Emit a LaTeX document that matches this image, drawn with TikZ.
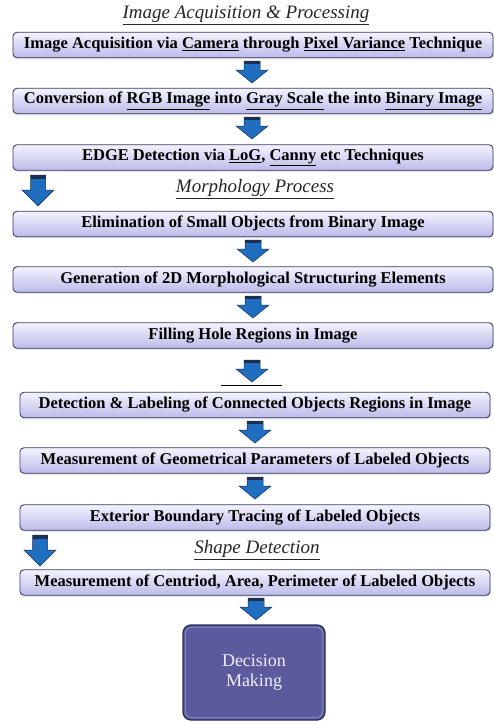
\documentclass[tikz,border=0pt]{standalone}
\usepackage{fontspec}
\setmainfont{Liberation Serif}
\usetikzlibrary{shadows,calc}
\definecolor{boxtop}{HTML}{F3F3FD}
\definecolor{boxbot}{HTML}{BBBBEA}
\definecolor{boxline}{HTML}{3C3C66}
\definecolor{arrblue}{HTML}{1F6EC0}
\definecolor{arrdark}{HTML}{1A2F52}
\definecolor{decfill}{HTML}{5A5A9C}
\definecolor{decline}{HTML}{2E2E52}
\definecolor{dechi}{HTML}{8E8ED0}
\definecolor{dectext}{HTML}{EEEEF6}
\tikzset{
  stepbox/.style={draw=boxline, line width=0.9pt, rounded corners=4pt,
    top color=boxtop, bottom color=boxbot, inner sep=0pt,
    drop shadow={opacity=0.2, shadow xshift=1pt, shadow yshift=-1.5pt},
    font=\fontsize{16.5}{18}\selectfont\bfseries, text=black},
  widebox/.style={stepbox, minimum width=480pt, minimum height=25.5pt},
  narrowbox/.style={stepbox, minimum width=470pt, minimum height=25.5pt},
  sectitle/.style={font=\fontsize{19}{21}\selectfont\itshape, inner sep=1pt, text=black!85},
  decbox/.style={draw=decline, line width=1.3pt, rounded corners=8pt, fill=decfill,
    minimum width=142pt, minimum height=95pt, align=center, text=dectext,
    font=\fontsize{18}{20}\selectfont},
  blockarrow/.pic={
    \fill[arrblue, draw=arrdark, line width=0.5pt] (-8,0) -- (8,0) -- (8,9) -- (16,9) -- (0,22) -- (-16,9) -- (-8,9) -- cycle;
    \fill[arrdark] (-8,0) rectangle (8,3);
  },
  bigarrow/.pic={
    \fill[arrblue, draw=arrdark, line width=0.5pt] (-7.5,0) -- (7.5,0) -- (7.5,15) -- (16,15) -- (0,31) -- (-16,15) -- (-7.5,15) -- cycle;
    \fill[arrdark] (-7.5,0) rectangle (7.5,4);
  }
}
\begin{document}
\begin{tikzpicture}[x=1pt,y=-1pt]
\useasboundingbox (0,0) rectangle (494,721);
\fill[white] (0,0) rectangle (494,721);

% section titles
\node[sectitle] (t1) at (246,15) {\underline{Image Acquisition \& Processing}};
\node[sectitle] (t2) at (255,189) {\underline{Morphology Process}};
\node[sectitle] (t3) at (257,550) {\underline{Shape Detection}};

% process boxes
\node[widebox] (b1) at (253,45) {Image Acquisition via \underline{Camera} through \underline{Pixel Variance} Technique};
\node[widebox] (b2) at (253,101) {Conversion of \underline{RGB Image} into \underline{Gray Scale} the into \underline{Binary Image}};
\node[widebox] (b3) at (253,157.5) {EDGE Detection via \underline{LoG}, \underline{Canny} etc Techniques};
\node[widebox] (b4) at (253,224) {Elimination of Small Objects from Binary Image};
\node[widebox] (b5) at (253,279.5) {Generation of 2D Morphological Structuring Elements};
\node[widebox] (b6) at (253,335.5) {Filling Hole Regions in Image};
\node[narrowbox] (b7) at (255,405) {Detection \& Labeling of Connected Objects Regions in Image};
\node[narrowbox] (b8) at (255,460.5) {Measurement of Geometrical Parameters of Labeled Objects};
\node[narrowbox] (b9) at (255,517.5) {Exterior Boundary Tracing of Labeled Objects};
\node[narrowbox] (b10) at (255,582.5) {Measurement of Centriod, Area, Perimeter of Labeled Objects};

% decision box
\node[decbox] (dec) at (254,672.5) {Decision\\Making};
\draw[dechi, line width=1.2pt, rounded corners=6pt, opacity=0.7]
  ($(dec.north west)+(3,3)$) rectangle ($(dec.south east)+(-3,-3)$);

% block arrows
\pic at (252,61) {blockarrow};
\pic at (252,117) {blockarrow};
\pic at (38,175) {bigarrow};
\pic at (253,240) {blockarrow};
\pic at (253,296) {blockarrow};
\pic at (252,360) {blockarrow};
\pic at (255,421) {blockarrow};
\pic at (255,477) {blockarrow};
\pic at (40,535) {bigarrow};
\pic at (256,598) {blockarrow};

% stray rule under the arrow
\coordinate (ul) at (221,385);
\coordinate (ur) at (282,385);
\draw[black, line width=0.8pt] (ul) -- (ur);
\end{tikzpicture}
\end{document}
